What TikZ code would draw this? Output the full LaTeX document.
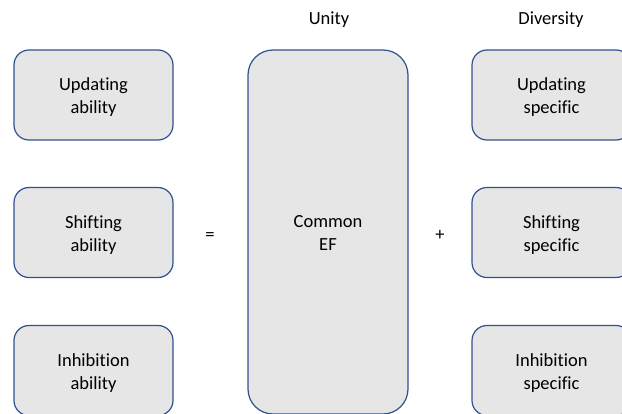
\documentclass[tikz,border=0pt]{standalone}
\usepackage{fontspec}
\setmainfont{Carlito}[Ligatures=CommonOff]
\usetikzlibrary{positioning}
\definecolor{boxline}{HTML}{2F528F}
\definecolor{boxfill}{HTML}{E7E6E6}
\newcommand\topstrut{\rule{0pt}{17pt}}
\newcommand\botstrut{\rule[-4pt]{0pt}{4pt}}
\newcommand\twolines[2]{\rule{0pt}{19pt}#1\\#2\botstrut}
\tikzset{heading/.style={font=\fontsize{18.5}{23}\selectfont,inner sep=0pt,execute at begin node=\topstrut,execute at end node=\botstrut},factor/.style={rectangle,draw=boxline,fill=boxfill,line width=1.2pt,rounded corners=15pt,minimum width=159pt,minimum height=90pt,align=center,inner sep=0pt,font=\fontsize{18.5}{23}\selectfont}}

\begin{document}
\begin{tikzpicture}[x=1pt,y=-1pt]
\useasboundingbox (0,0) rectangle (622,414);
\clip (0,0) rectangle (622,414);
\node[heading] (unity) at (329,18) {Unity};
\node[heading] (div) at (551,18) {Diversity};
\node[factor] (updab) at (93.5,95) {\twolines{Updating}{ability}};
\node[factor] (shiab) at (93.5,232.5) {\twolines{Shifting}{ability}};
\node[factor] (inhab) at (93.5,370.5) {\twolines{Inhibition}{ability}};
\node[factor,minimum width=160pt,minimum height=364pt,rounded corners=25pt] (common) at (328,232) {\twolines{Common}{EF}};
\node[factor] (updsp) at (551.5,95) {\twolines{Updating}{specific}};
\node[factor] (shisp) at (551.5,232.5) {\twolines{Shifting}{specific}};
\node[factor] (inhsp) at (551.5,370.5) {\twolines{Inhibition}{specific}};
\node[heading] (eq) at (210,234) {=};
\node[heading] (plus) at (440,234) {+};
\end{tikzpicture}
\end{document}
